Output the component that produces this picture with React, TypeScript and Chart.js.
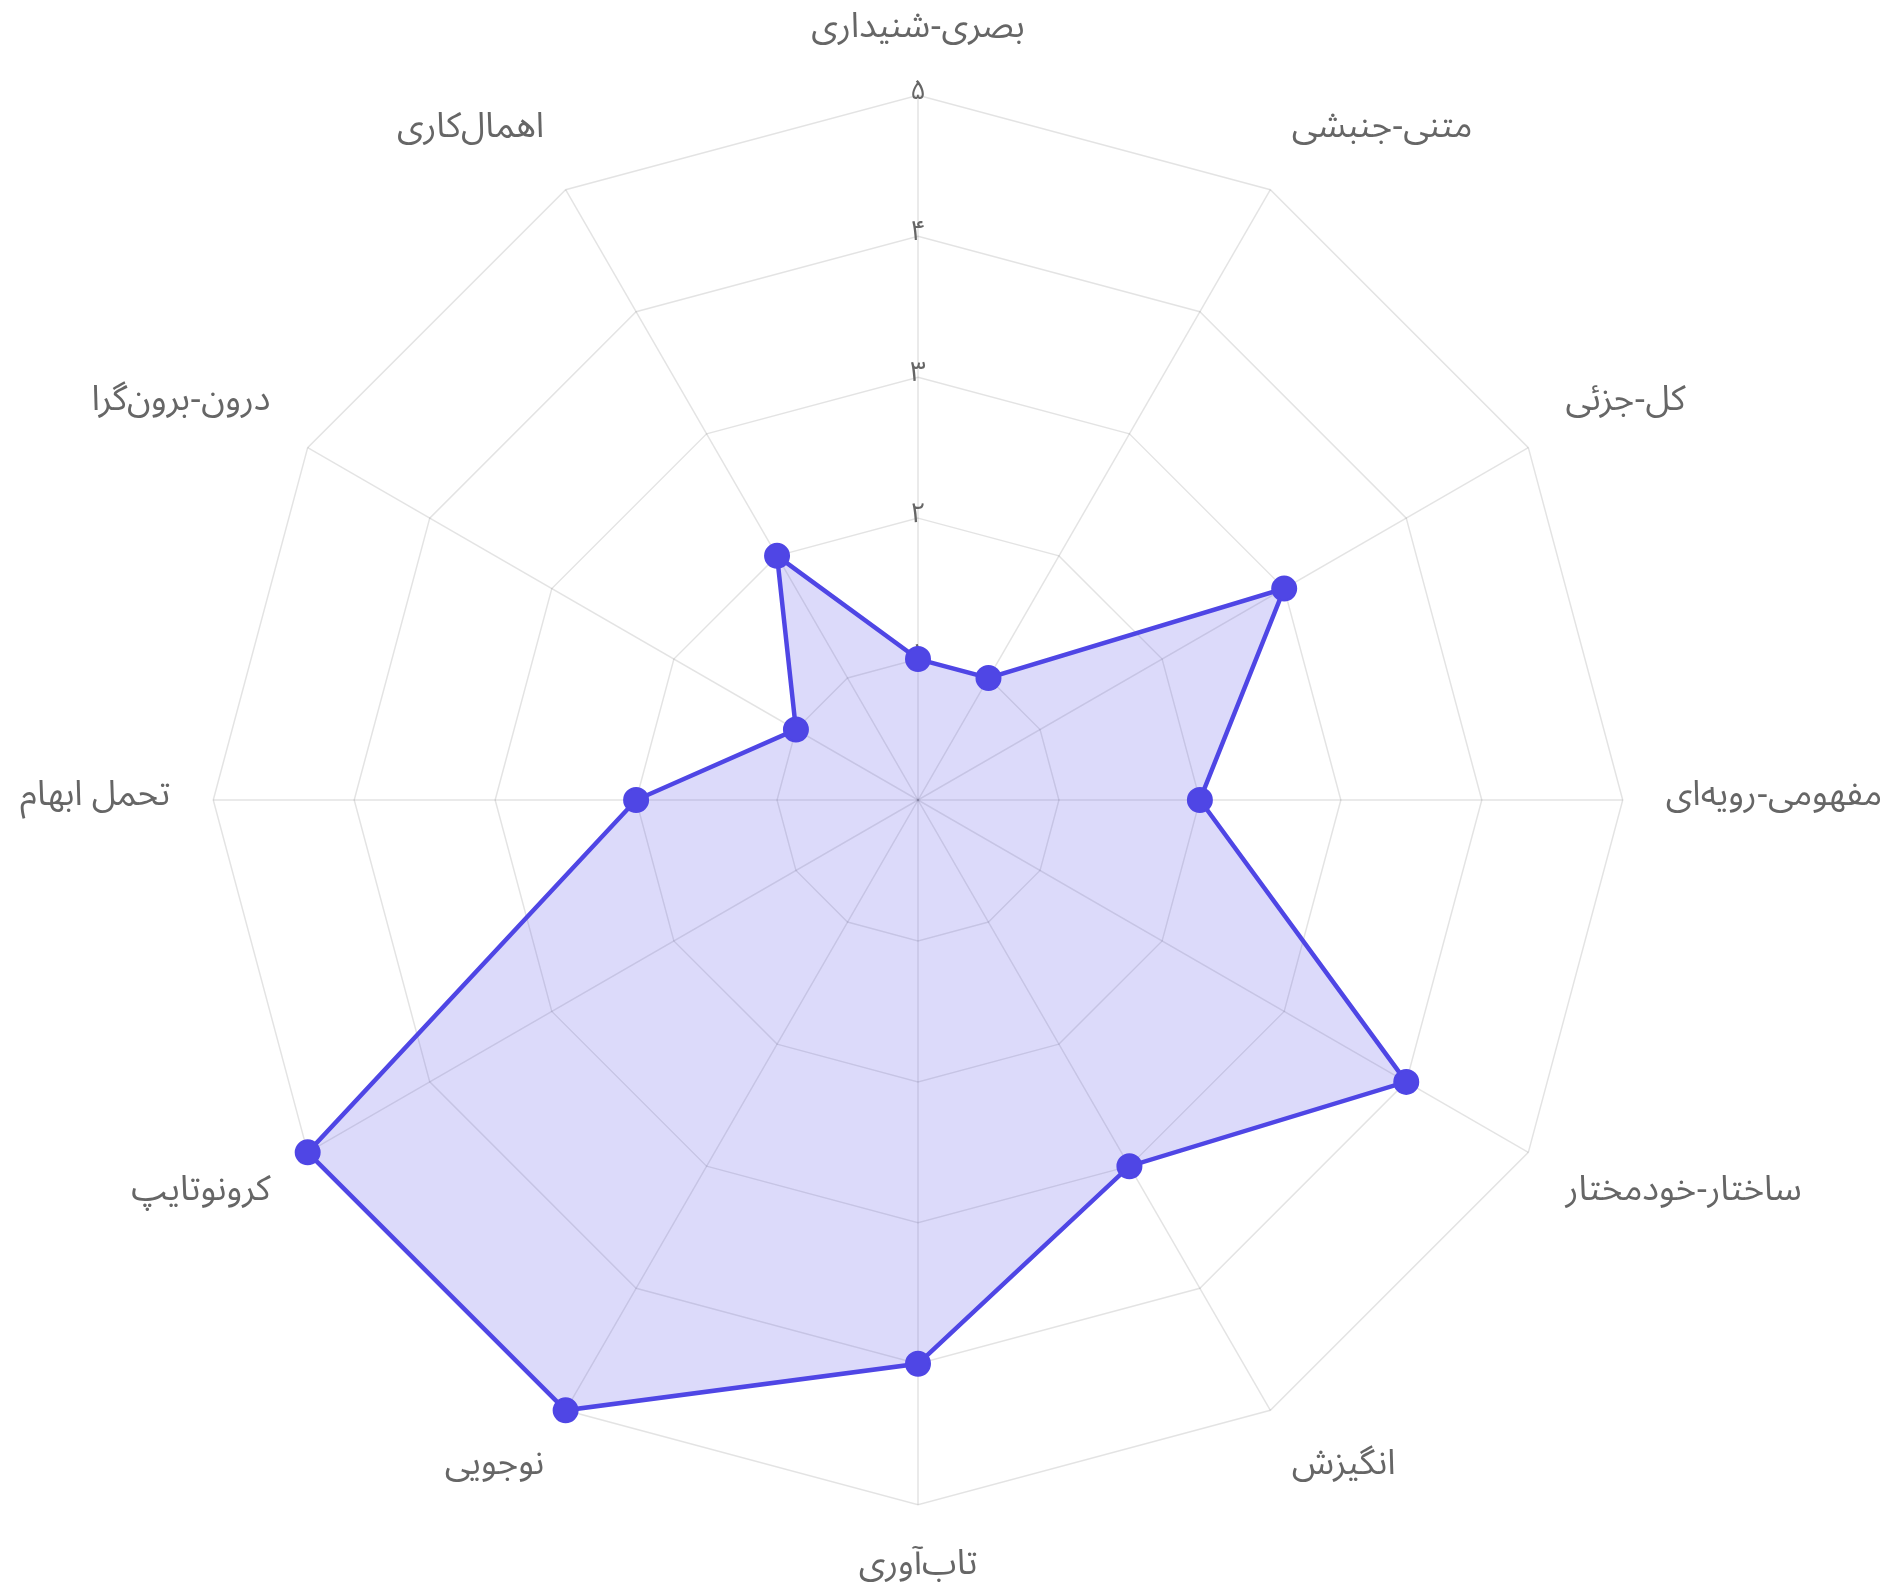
import React, { useEffect, useRef } from "react";
import { Chart, registerables } from "chart.js";

Chart.register(...registerables);

const categories: string[] = [
  "بصری-شنیداری",
  "متنی-جنبشی",
  "کل-جزئی",
  "مفهومی-رویه‌ای",
  "ساختار-خودمختار",
  "انگیزش",
  "تاب‌آوری",
  "نوجویی",
  "کرونوتایپ",
  "تحمل ابهام",
  "درون-برون‌گرا",
  "اهمال‌کاری",
];

const scores: number[] = [1, 1, 3, 2, 4, 3, 4, 5, 5, 2, 1, 2];

const persianDigits = ["۰", "۱", "۲", "۳", "۴", "۵", "۶", "۷", "۸", "۹"];
const toPersian = (v: number | string) =>
  String(v).replace(/[0-9]/g, (d) => persianDigits[Number(d)]);

const FONT = "'Noto Sans Arabic', 'Noto Sans', sans-serif";

export default function App() {
  const ref = useRef<HTMLCanvasElement | null>(null);

  useEffect(() => {
    if (!ref.current) return;
    const chart = new Chart(ref.current, {
      type: "radar",
      data: {
        labels: categories,
        datasets: [
          {
            label: "",
            data: scores,
            borderColor: "rgb(79, 70, 229)",
            backgroundColor: "rgba(79, 70, 229, 0.2)",
            borderWidth: 4.5,
            pointBackgroundColor: "rgb(79, 70, 229)",
            pointBorderColor: "rgb(79, 70, 229)",
            pointBorderWidth: 2,
            pointRadius: 12,
            fill: true,
          },
        ],
      },
      options: {
        animation: false,
        responsive: true,
        maintainAspectRatio: false,
        plugins: {
          legend: { display: false },
          tooltip: { enabled: false },
        },
        scales: {
          r: {
            min: 0,
            max: 5,
            ticks: {
              stepSize: 1,
              showLabelBackdrop: false,
              color: "#666",
              font: { size: 28, family: FONT },
              callback: (v: any) => toPersian(v),
            },
            grid: { color: "rgba(0,0,0,0.11)", lineWidth: 1.5 },
            angleLines: { color: "rgba(0,0,0,0.11)", lineWidth: 1.5 },
            pointLabels: {
              color: "#666",
              font: { size: 35, family: FONT },
              padding: 27,
            },
          },
        },
      },
    });
    return () => chart.destroy();
  }, []);

  return (
    <div
      style={{
        position: "fixed",
        left: 0,
        top: 0,
        width: 1901,
        height: 1588,
        overflow: "hidden",
      }}
    >
      <div
        style={{
          position: "absolute",
          left: -12,
          top: 8,
          width: 1928,
          height: 1584,
        }}
      >
        <canvas ref={ref} />
      </div>
    </div>
  );
}
